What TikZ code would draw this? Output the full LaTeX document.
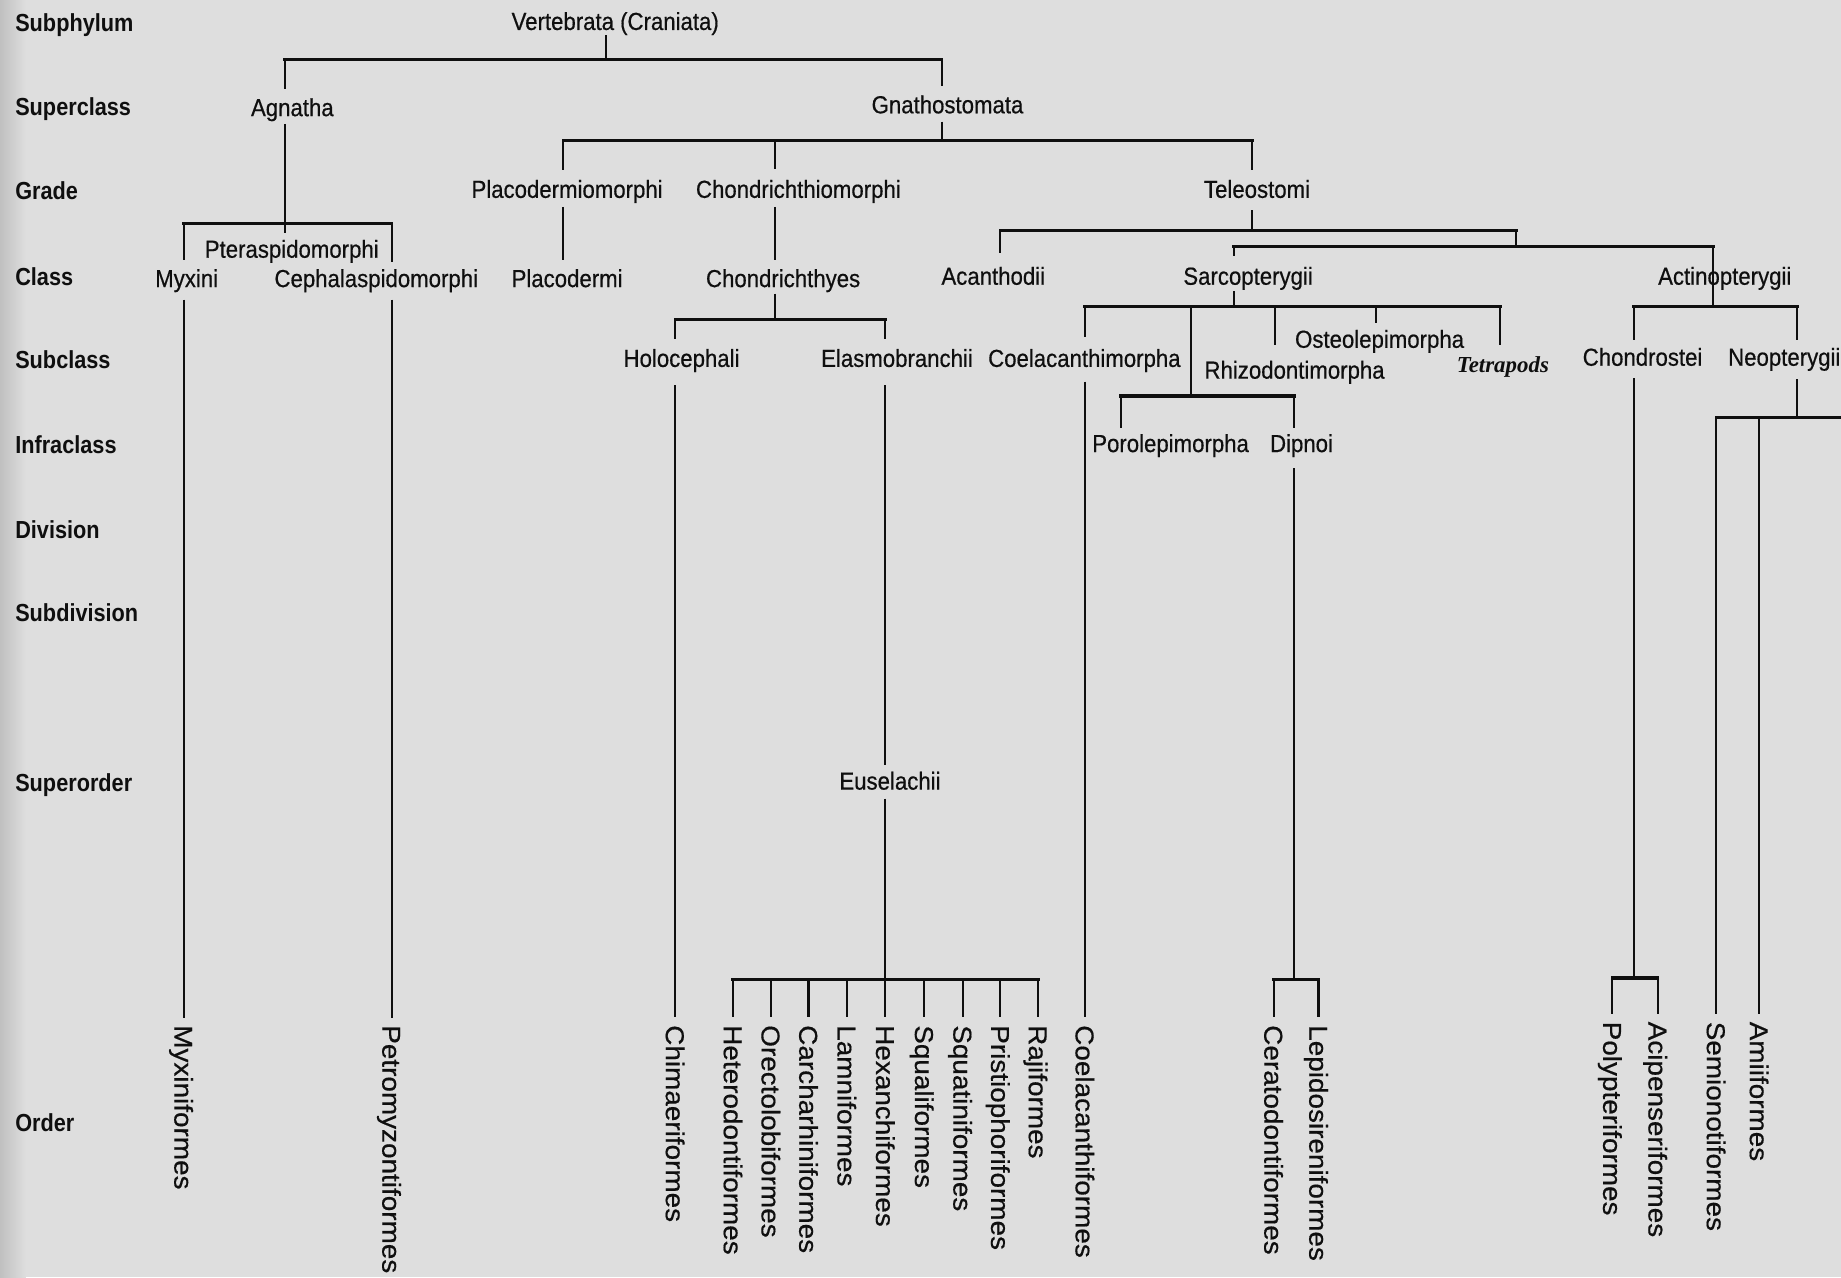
\documentclass[tikz,border=0pt]{standalone}
\usepackage{fontspec}
\setmainfont{Liberation Sans}
\newfontfamily\treefont{Liberation Sans}[FakeStretch=0.9,FakeBold=0.5]
\newfontfamily\rankfont{Liberation Sans}[FakeStretch=0.88]
\newfontfamily\orderfont{Liberation Sans}[FakeStretch=1.08,FakeBold=0.5]
\newfontfamily\tetfont{Liberation Serif}
\definecolor{bg}{RGB}{222,222,222}
\definecolor{edgegray}{RGB}{192,192,192}
\definecolor{ink}{RGB}{15,15,15}
\begin{document}
\begin{tikzpicture}[x=1pt,y=-1pt,
  tx/.style={font=\treefont\fontsize{21}{24}\selectfont, inner sep=0pt, text height=15pt, text depth=4.4pt, anchor=base, text=ink},
  tetstyle/.style={font=\tetfont\bfseries\itshape\fontsize{19.5}{22}\selectfont, inner sep=0pt, text height=12.6pt, text depth=4pt, anchor=base, text=ink},
  rk/.style={font=\rankfont\bfseries\fontsize{21}{24}\selectfont, inner sep=0pt, text height=15pt, text depth=4.4pt, anchor=base west, text=ink},
  ord/.style={font=\orderfont\fontsize{22}{24}\selectfont, inner sep=0pt, text height=15.75pt, text depth=0pt, rotate=-90, anchor=west, text=ink},
  vl/.style={draw=ink, line width=1.8pt},
  bar/.style={draw=ink, line width=2.7pt, line cap=rect},
]
\useasboundingbox (0,0) rectangle (1568,1088);
\fill[bg] (0,0) rectangle (1568,1088);
\shade[left color=edgegray, right color=bg] (0,0) rectangle (22,1088);

% ---- rank labels ----
\node[rk] (rSubphylum) at (12.8,26.7) {Subphylum};
\node[rk] (rSuperclass) at (12.8,98.5) {Superclass};
\node[rk] (rGrade) at (12.8,169.5) {Grade};
\node[rk] (rClass) at (12.8,243.5) {Class};
\node[rk] (rSubclass) at (12.8,313.5) {Subclass};
\node[rk] (rInfraclass) at (12.8,386.5) {Infraclass};
\node[rk] (rDivision) at (12.8,458.5) {Division};
\node[rk] (rSubdivision) at (12.8,529.5) {Subdivision};
\node[rk] (rSuperorder) at (12.8,674.5) {Superorder};
\node[rk] (rOrder) at (12.8,963.5) {Order};

% ---- tree labels ----
\node[tx] (vert) at (524,25.5) {Vertebrata (Craniata)};
\node[tx] (agn) at (249,98.9) {Agnatha};
\node[tx] (gna) at (807,96.5) {Gnathostomata};
\node[tx] (plm) at (483,168.5) {Placodermiomorphi};
\node[tx] (chm) at (680,168.5) {Chondrichthiomorphi};
\node[tx] (tel) at (1070.6,168.5) {Teleostomi};
\node[tx] (pter) at (248.5,219.5) {Pteraspidomorphi};
\node[tx] (myx) at (159,244.5) {Myxini};
\node[tx] (ceph) at (320.5,244.5) {Cephalaspidomorphi};
\node[tx] (plc) at (483,244.5) {Placodermi};
\node[tx] (chy) at (667,244.5) {Chondrichthyes};
\node[tx] (aca) at (846,242.5) {Acanthodii};
\node[tx] (sar) at (1063,242.5) {Sarcopterygii};
\node[tx] (act) at (1469,242.5) {Actinopterygii};
\node[tx] (hol) at (580.5,312.5) {Holocephali};
\node[tx] (ela) at (764,312.5) {Elasmobranchii};
\node[tx] (coe) at (923.6,312.5) {Coelacanthimorpha};
\node[tx] (ost) at (1175,296.2) {Osteolepimorpha};
\node[tx] (rhi) at (1102.6,322.5) {Rhizodontimorpha};
\node[tetstyle] (tet) at (1280,317.3) {Tetrapods};
\node[tx] (cho) at (1399,311.5) {Chondrostei};
\node[tx] (neo) at (1519.7,311.5) {Neopterygii};
\node[tx] (por) at (997,385) {Porolepimorpha};
\node[tx] (dip) at (1108.5,385) {Dipnoi};
\node[tx] (eus) at (758,672.5) {Euselachii};

% ---- orders ----
\node[ord] (myxf) at (156.4,873) {Myxiniformes};
\node[ord] (petf) at (333.5,873) {Petromyzontiformes};
\node[ord] (chif) at (575,873) {Chimaeriformes};
\node[ord] (het) at (624.3,873) {Heterodontiformes};
\node[ord] (ore) at (656.5,873) {Orectolobiformes};
\node[ord] (car) at (688.6,873) {Carcharhiniformes};
\node[ord] (lam) at (721.2,873) {Lamniformes};
\node[ord] (hex) at (754,873) {Hexanchiformes};
\node[ord] (squa) at (787.2,873) {Squaliformes};
\node[ord] (squt) at (819.9,873) {Squatiniformes};
\node[ord] (pri) at (852,873) {Pristiophoriformes};
\node[ord] (raj) at (884.1,873) {Rajiformes};
\node[ord] (coef) at (924,873) {Coelacanthiformes};
\node[ord] (cer) at (1084.7,873) {Ceratodontiformes};
\node[ord] (lep) at (1123,873) {Lepidosireniformes};
\node[ord] (pol) at (1373.3,870) {Polypteriformes};
\node[ord] (aci) at (1411.9,870) {Acipenseriformes};
\node[ord] (sem) at (1461.6,870) {Semionotiformes};
\node[ord] (ami) at (1498.2,870) {Amiiformes};

% ---- junction coordinates ----
\coordinate (j0) at (516,51);   \coordinate (j0L) at (242.8,51);  \coordinate (j0R) at (802,51);
\coordinate (j1) at (242.8,190); \coordinate (j1L) at (156.4,190); \coordinate (j1R) at (333.5,190);
\coordinate (j2) at (802,120);  \coordinate (j2L) at (479.6,120); \coordinate (j2M) at (660,120); \coordinate (j2R) at (1066.5,120);
\coordinate (j3) at (660,272);  \coordinate (j3L) at (575,272);   \coordinate (j3R) at (754,272);
\coordinate (j4) at (754,834);  \coordinate (j4L) at (624.3,834); \coordinate (j4R) at (884.1,834);
\coordinate (j5) at (1066.5,196); \coordinate (j5L) at (851.8,196); \coordinate (j5R) at (1291.3,196);
\coordinate (j6M) at (1291.3,210); \coordinate (j6L) at (1051,210); \coordinate (j6R) at (1459,210);
\coordinate (j7) at (1051,261.2); \coordinate (j7L) at (924,261.2); \coordinate (j7a) at (1014.4,261.2);
\coordinate (j7b) at (1086,261.2); \coordinate (j7c) at (1171.8,261.2); \coordinate (j7R) at (1277.6,261.2);
\coordinate (j8) at (1459,261.2); \coordinate (j8L) at (1391.5,261.2); \coordinate (j8R) at (1530.8,261.2);
\coordinate (j9) at (1014.4,337.3); \coordinate (j9L) at (954.6,337.3); \coordinate (j9R) at (1102.3,337.3);
\coordinate (j10) at (1102.3,834); \coordinate (j10L) at (1084.7,834); \coordinate (j10R) at (1123,834);
\coordinate (j11) at (1391.5,833); \coordinate (j11L) at (1373.3,833); \coordinate (j11R) at (1411.9,833);
\coordinate (j12) at (1530.8,355.4); \coordinate (j12L) at (1461.6,355.4); \coordinate (j12a) at (1498.2,355.4);
\coordinate (j12end) at (1572,355.4);

% ---- bars ----
\draw[bar] (j0L) -- (j0R);
\draw[bar] (j1L) -- (j1R);
\draw[bar] (j2L) -- (j2R);
\draw[bar] (j3L) -- (j3R);
\draw[bar] (j4L) -- (j4R);
\draw[bar] (j5L) -- (j5R);
\draw[bar] (j6L) -- (j6R);
\draw[bar] (j7L) -- (j7R);
\draw[bar] (j8L) -- (j8R);
\draw[bar] (j9L) -- (j9R);
\draw[bar] (j10L) -- (j10R);
\draw[bar] (j11L) -- (j11R);
\draw[bar] (j12L) -- (j12end);

% ---- connectors ----
% Vertebrata
\draw[vl] (vert.south -| j0) -- (j0);
\draw[vl,shorten >=8pt] (j0L) -- (j0L |- agn.north);
\draw[vl,shorten >=8pt] (j0R) -- (j0R |- gna.north);
% Agnatha
\draw[vl,shorten <=2pt,shorten >=5.5pt] (agn.south -| j1) -- (j1 |- pter.north);
\draw[vl,shorten >=7.5pt] (j1L) -- (j1L |- myx.north);
\draw[vl,shorten >=6pt] (j1R) -- (j1R |- ceph.north);
\draw[vl,shorten <=6pt,shorten >=6pt] (myx.south -| j1L) -- (myxf.west);
\draw[vl,shorten <=6pt,shorten >=6pt] (ceph.south -| j1R) -- (petf.west);
% Gnathostomata
\draw[vl,shorten <=2.5pt] (gna.south -| j2) -- (j2);
\draw[vl,shorten >=8.5pt] (j2L) -- (j2L |- plm.north);
\draw[vl,shorten >=9pt] (j2M) -- (j2M |- chm.north);
\draw[vl,shorten >=8.5pt] (j2R) -- (j2R |- tel.north);
\draw[vl,shorten <=3pt,shorten >=8pt] (plm.south -| j2L) -- (j2L |- plc.north);
\draw[vl,shorten <=3pt,shorten >=8pt] (chm.south -| j2M) -- (j2M |- chy.north);
% Chondrichthyes
\draw[vl,shorten <=1pt] (chy.south -| j3) -- (j3);
\draw[vl,shorten >=8.5pt] (j3L) -- (j3L |- hol.north);
\draw[vl,shorten >=8.5pt] (j3R) -- (j3R |- ela.north);
\draw[vl,shorten <=11pt,shorten >=6.5pt] (hol.south -| j3L) -- (chif.west);
\draw[vl,shorten <=11pt,shorten >=5.5pt] (ela.south -| j3R) -- (j3R |- eus.north);
\draw[vl,shorten <=3pt] (eus.south -| j4) -- (j4);
\foreach \o in {het,ore,car,lam,hex,squa,squt,pri,raj}
  \draw[vl,shorten >=6.5pt] (j4 -| \o.west) -- (\o.west);
% Teleostomi
\draw[vl,shorten <=6pt] (tel.south -| j5) -- (j5);
\draw[vl,shorten >=12pt] (j5L) -- (j5L |- aca.north);
\draw[vl] (j5R) -- (j6M);
\draw[vl,shorten >=9pt] (j6L) -- (j6L |- sar.north);
\draw[vl] (j6R) -- (j8);
% Sarcopterygii
\draw[vl,shorten <=1pt] (sar.south -| j7) -- (j7);
\draw[vl,shorten >=10.7pt] (j7L) -- (j7L |- coe.north);
\draw[vl] (j7a) -- (j9);
\draw[vl,shorten >=13.7pt] (j7b) -- (j7b |- rhi.north);
\draw[vl,shorten >=6.2pt] (j7c) -- (j7c |- ost.north);
\draw[vl,shorten >=11pt] (j7R) -- (j7R |- tet.north);
\draw[vl,shorten <=8pt,shorten >=6.5pt] (coe.south -| j7L) -- (coef.west);
\draw[vl,shorten >=5.4pt] (j9L) -- (j9L |- por.north);
\draw[vl,shorten >=5.4pt] (j9R) -- (j9R |- dip.north);
\draw[vl,shorten <=9pt] (dip.south -| j10) -- (j10);
\draw[vl,shorten >=6.5pt] (j10L) -- (cer.west);
\draw[vl,shorten >=6.5pt] (j10R) -- (lep.west);
% Actinopterygii
\draw[vl,shorten >=7pt] (j8L) -- (j8L |- cho.north);
\draw[vl,shorten >=7pt] (j8R) -- (j8R |- neo.north);
\draw[vl,shorten <=6pt] (cho.south -| j11) -- (j11);
\draw[vl,shorten >=6.4pt] (j11L) -- (pol.west);
\draw[vl,shorten >=6.4pt] (j11R) -- (aci.west);
\draw[vl,shorten <=7pt] (neo.south -| j12) -- (j12);
\draw[vl,shorten >=6pt] (j12L) -- (sem.west);
\draw[vl,shorten >=6pt] (j12a) -- (ami.west);
\end{tikzpicture}
\end{document}
